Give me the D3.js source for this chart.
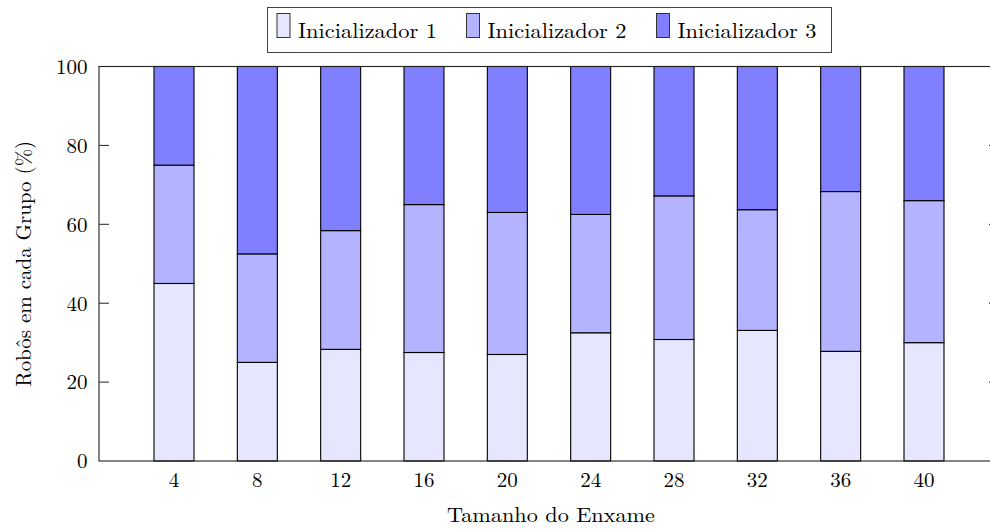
<!DOCTYPE html>
<html>
<head>
<meta charset="utf-8">
<script src="https://cdn.jsdelivr.net/npm/d3@7"></script>
<style>
  html, body { margin: 0; padding: 0; background: #fff; }
  svg { display: block; }
  text { font-family: "Latin Modern Roman", "CMU Serif", "Liberation Serif", serif; fill: #000; }
</style>
</head>
<body>
<svg id="chart" width="990" height="531"></svg>
<script>
// Swarm sizes (x categories)
const swarmSizes = [4, 8, 12, 16, 20, 24, 28, 32, 36, 40];
// Share of robots (%) per initializer group
const init1 = [45, 25, 28.3, 27.5, 27, 32.5, 30.8, 33.1, 27.8, 30];
const init2 = [30, 27.5, 30.1, 37.5, 36, 30, 36.4, 30.6, 40.5, 36];
const init3 = [25, 47.5, 41.6, 35, 37, 37.5, 32.8, 36.3, 31.7, 34];
const seriesNames = ["Inicializador 1", "Inicializador 2", "Inicializador 3"];
const seriesColors = ["#e6e6ff", "#b3b3ff", "#8080ff"];
const yTicks = [0, 20, 40, 60, 80, 100];

const svg = d3.select("#chart");
const plotLeft = 99, plotRight = 999, plotTop = 66.5, plotBottom = 461;

// x range padded by 10% of the data span on each side
const span = d3.max(swarmSizes) - d3.min(swarmSizes);
const x = d3.scaleLinear()
  .domain([d3.min(swarmSizes) - 0.1 * span, d3.max(swarmSizes) + 0.1 * span])
  .range([plotLeft, plotRight]);
const y = d3.scaleLinear().domain([0, 100]).range([plotBottom, plotTop]);

const rows = swarmSizes.map((s, i) => ({ size: s, a: init1[i], b: init2[i], c: init3[i] }));
const layers = d3.stack().keys(["a", "b", "c"])(rows);

const barW = 40;
layers.forEach((layer, li) => {
  svg.append("g")
    .selectAll("rect")
    .data(layer)
    .join("rect")
    .attr("x", d => x(d.data.size) - barW / 2)
    .attr("y", d => y(d[1]))
    .attr("width", barW)
    .attr("height", d => y(d[0]) - y(d[1]))
    .attr("fill", seriesColors[li])
    .attr("stroke", "#000")
    .attr("stroke-width", 1.1);
});

// Axis frame
svg.append("rect")
  .attr("x", plotLeft).attr("y", plotTop)
  .attr("width", plotRight - plotLeft).attr("height", plotBottom - plotTop)
  .attr("fill", "none").attr("stroke", "#222").attr("stroke-width", 1.1);

// Y ticks (inward, both sides) and labels
const tickLen = 10;
const yAxisG = svg.append("g");
yTicks.forEach(t => {
  if (t > 0 && t < 100) {
    yAxisG.append("line").attr("x1", plotLeft).attr("x2", plotLeft + tickLen)
      .attr("y1", y(t)).attr("y2", y(t)).attr("stroke", "#222").attr("stroke-width", 1);
    yAxisG.append("line").attr("x1", plotRight).attr("x2", plotRight - tickLen)
      .attr("y1", y(t)).attr("y2", y(t)).attr("stroke", "#222").attr("stroke-width", 1);
  }
  yAxisG.append("text")
    .attr("x", 87.5).attr("y", y(t) + 7.3)
    .attr("text-anchor", "end")
    .style("font-size", "21px")
    .text(t);
});

// X tick labels
svg.append("g").selectAll("text")
  .data(swarmSizes)
  .join("text")
  .attr("x", d => x(d))
  .attr("y", 486.5)
  .attr("text-anchor", "middle")
  .style("font-size", "21px")
  .text(d => d);

// Axis titles
svg.append("text")
  .attr("x", (plotLeft + plotRight) / 2 + 2)
  .attr("y", 521.5)
  .attr("text-anchor", "middle")
  .style("font-size", "21px")
  .attr("textLength", 208).attr("lengthAdjust", "spacingAndGlyphs")
  .text("Tamanho do Enxame");

svg.append("text")
  .attr("transform", `translate(30.5, ${(plotTop + plotBottom) / 2}) rotate(-90)`)
  .attr("text-anchor", "middle")
  .style("font-size", "21px")
  .attr("textLength", 246).attr("lengthAdjust", "spacingAndGlyphs")
  .text("Robôs em cada Grupo (%)");

// Legend
const legend = svg.append("g");
legend.append("rect")
  .attr("x", 267.5).attr("y", 7.5).attr("width", 564).attr("height", 45)
  .attr("fill", "#fff").attr("stroke", "#444").attr("stroke-width", 1);
const legendX = [277, 466.5, 656.5];
seriesNames.forEach((name, i) => {
  legend.append("rect")
    .attr("x", legendX[i]).attr("y", 13.5).attr("width", 13).attr("height", 24)
    .attr("fill", seriesColors[i]).attr("stroke", "#333").attr("stroke-width", 1);
  legend.append("text")
    .attr("x", legendX[i] + 21).attr("y", 38.3)
    .style("font-size", "21px")
    .attr("textLength", 139).attr("lengthAdjust", "spacingAndGlyphs")
    .text(name);
});
</script>
</body>
</html>
